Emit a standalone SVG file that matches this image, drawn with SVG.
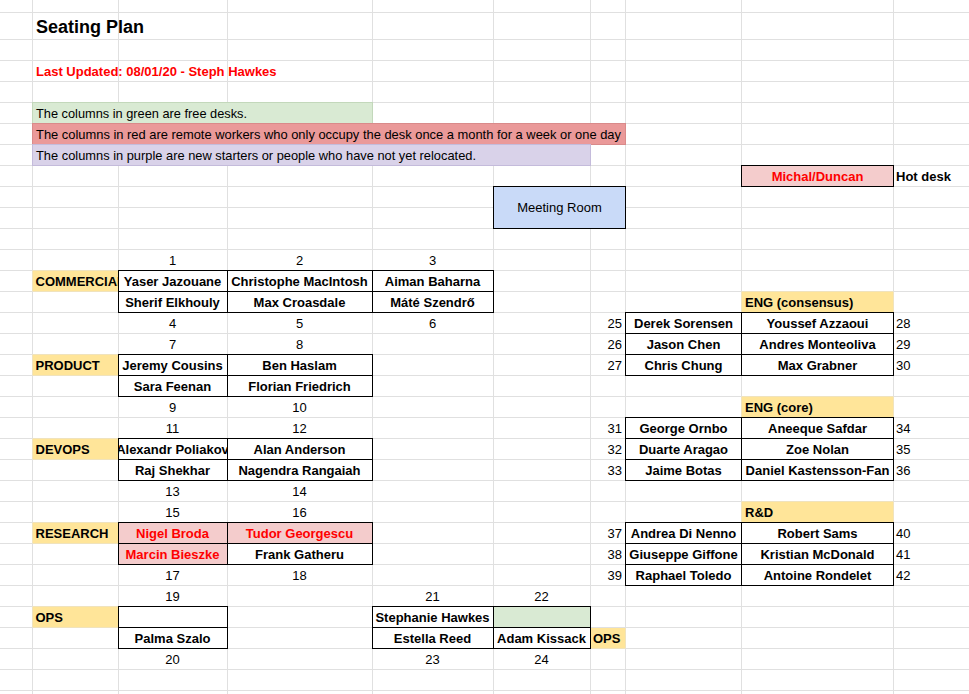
<svg xmlns="http://www.w3.org/2000/svg" width="969" height="694" viewBox="0 0 969 694">
  <style>
    .grid line { stroke: #e0e0e0; stroke-width: 1; }
    .cell { fill: #ffffff; stroke: #000000; stroke-width: 1; }
    .pink { fill: #f4cccc; stroke: #000000; stroke-width: 1; }
    .mint { fill: #d9ead3; stroke: #000000; stroke-width: 1; }
    .tag { fill: #ffe599; }
    text { font-family: "Liberation Sans", Arial, Helvetica, sans-serif; font-size: 13px; fill: #000000; }
    .name { font-weight: bold; text-anchor: middle; }
    .label { font-weight: bold; }
    .num { text-anchor: middle; }
    .numr { text-anchor: end; }
    .red { fill: #ff0000; }
  </style>
  <defs>
    <clipPath id="clipB"><rect x="32.5" y="0" width="85.5" height="694"/></clipPath>
    <clipPath id="clipC"><rect x="119" y="0" width="108" height="694"/></clipPath>
  </defs>

  <rect x="0" y="0" width="969" height="694" fill="#ffffff"/>

  <!-- sheet gridlines -->
  <g class="grid" id="gridlines">
    <line x1="32.5" y1="0" x2="32.5" y2="694"/>
    <line x1="118.5" y1="0" x2="118.5" y2="694"/>
    <line x1="227.5" y1="0" x2="227.5" y2="694"/>
    <line x1="372.5" y1="0" x2="372.5" y2="694"/>
    <line x1="493.5" y1="0" x2="493.5" y2="694"/>
    <line x1="590.5" y1="0" x2="590.5" y2="694"/>
    <line x1="625.5" y1="0" x2="625.5" y2="694"/>
    <line x1="741.5" y1="0" x2="741.5" y2="694"/>
    <line x1="893.5" y1="0" x2="893.5" y2="694"/>
    <line x1="0" y1="12.5" x2="969" y2="12.5"/>
    <line x1="0" y1="39.5" x2="969" y2="39.5"/>
    <line x1="0" y1="60.5" x2="969" y2="60.5"/>
    <line x1="0" y1="81.5" x2="969" y2="81.5"/>
    <line x1="0" y1="102.5" x2="969" y2="102.5"/>
    <line x1="0" y1="123.5" x2="969" y2="123.5"/>
    <line x1="0" y1="144.5" x2="969" y2="144.5"/>
    <line x1="0" y1="165.5" x2="969" y2="165.5"/>
    <line x1="0" y1="186.5" x2="969" y2="186.5"/>
    <line x1="0" y1="207.5" x2="969" y2="207.5"/>
    <line x1="0" y1="228.5" x2="969" y2="228.5"/>
    <line x1="0" y1="249.5" x2="969" y2="249.5"/>
    <line x1="0" y1="270.5" x2="969" y2="270.5"/>
    <line x1="0" y1="291.5" x2="969" y2="291.5"/>
    <line x1="0" y1="312.5" x2="969" y2="312.5"/>
    <line x1="0" y1="333.5" x2="969" y2="333.5"/>
    <line x1="0" y1="354.5" x2="969" y2="354.5"/>
    <line x1="0" y1="375.5" x2="969" y2="375.5"/>
    <line x1="0" y1="396.5" x2="969" y2="396.5"/>
    <line x1="0" y1="417.5" x2="969" y2="417.5"/>
    <line x1="0" y1="438.5" x2="969" y2="438.5"/>
    <line x1="0" y1="459.5" x2="969" y2="459.5"/>
    <line x1="0" y1="480.5" x2="969" y2="480.5"/>
    <line x1="0" y1="501.5" x2="969" y2="501.5"/>
    <line x1="0" y1="522.5" x2="969" y2="522.5"/>
    <line x1="0" y1="543.5" x2="969" y2="543.5"/>
    <line x1="0" y1="564.5" x2="969" y2="564.5"/>
    <line x1="0" y1="585.5" x2="969" y2="585.5"/>
    <line x1="0" y1="606.5" x2="969" y2="606.5"/>
    <line x1="0" y1="627.5" x2="969" y2="627.5"/>
    <line x1="0" y1="648.5" x2="969" y2="648.5"/>
    <line x1="0" y1="669.5" x2="969" y2="669.5"/>
    <line x1="0" y1="690.5" x2="969" y2="690.5"/>
  </g>

  <!-- title and legend -->
  <g id="header">
    <text x="36" y="33" style="font-size:18px;font-weight:bold">Seating Plan</text>
    <text x="36" y="76" class="label red">Last Updated: 08/01/20 - Steph Hawkes</text>
  </g>
  <g id="legend">
    <rect x="32.5" y="102.5" width="340" height="21" fill="#d9ead3" stroke="#c3d8bb"/>
    <rect x="32.5" y="123.5" width="593" height="21" fill="#ea9999" stroke="#d98a8a"/>
    <rect x="32.5" y="144.5" width="558" height="21" fill="#d9d2e9" stroke="#c4bbdb"/>
    <text x="36" y="118" textLength="211" lengthAdjust="spacingAndGlyphs">The columns in green are free desks.</text>
    <text x="36" y="139" textLength="585" lengthAdjust="spacingAndGlyphs">The columns in red are remote workers who only occupy the desk once a month for a week or one day</text>
    <text x="36" y="160" textLength="440" lengthAdjust="spacingAndGlyphs">The columns in purple are new starters or people who have not yet relocated.</text>
  </g>

  <g id="hot-desk">
    <rect class="pink" x="741.5" y="165.5" width="152" height="21"/>
    <text x="817.5" y="181" class="name red">Michal/Duncan</text>
    <text x="896" y="181" class="label">Hot desk</text>
  </g>

  <g id="meeting-room">
    <rect x="493.5" y="186.5" width="132" height="42" fill="#c9daf8" stroke="#000000"/>
    <text x="559.5" y="212" class="num">Meeting Room</text>
  </g>

  <!-- COMMERCIAL: desks 1-6 -->
  <g id="commercial">
    <rect class="tag" x="32.5" y="270.5" width="86" height="21"/>
    <text x="35.5" y="286" class="label" clip-path="url(#clipB)">COMMERCIAL</text>
    <rect class="cell" x="118.5" y="270.5" width="109" height="21"/>
    <rect class="cell" x="227.5" y="270.5" width="145" height="21"/>
    <rect class="cell" x="372.5" y="270.5" width="121" height="21"/>
    <rect class="cell" x="118.5" y="291.5" width="109" height="21"/>
    <rect class="cell" x="227.5" y="291.5" width="145" height="21"/>
    <rect class="cell" x="372.5" y="291.5" width="121" height="21"/>
    <text x="172.5" y="265" class="num">1</text>
    <text x="299.5" y="265" class="num">2</text>
    <text x="432.5" y="265" class="num">3</text>
    <text x="172.5" y="286" class="name">Yaser Jazouane</text>
    <text x="299.5" y="286" class="name">Christophe MacIntosh</text>
    <text x="432.5" y="286" class="name">Aiman Baharna</text>
    <text x="172.5" y="307" class="name">Sherif Elkhouly</text>
    <text x="299.5" y="307" class="name">Max Croasdale</text>
    <text x="432.5" y="307" class="name">Máté Szendrő</text>
    <text x="172.5" y="328" class="num">4</text>
    <text x="299.5" y="328" class="num">5</text>
    <text x="432.5" y="328" class="num">6</text>
  </g>

  <!-- PRODUCT: desks 7-10 -->
  <g id="product">
    <rect class="tag" x="32.5" y="354.5" width="86" height="21"/>
    <text x="35.5" y="370" class="label">PRODUCT</text>
    <rect class="cell" x="118.5" y="354.5" width="109" height="21"/>
    <rect class="cell" x="227.5" y="354.5" width="145" height="21"/>
    <rect class="cell" x="118.5" y="375.5" width="109" height="21"/>
    <rect class="cell" x="227.5" y="375.5" width="145" height="21"/>
    <text x="172.5" y="349" class="num">7</text>
    <text x="299.5" y="349" class="num">8</text>
    <text x="172.5" y="370" class="name">Jeremy Cousins</text>
    <text x="299.5" y="370" class="name">Ben Haslam</text>
    <text x="172.5" y="391" class="name">Sara Feenan</text>
    <text x="299.5" y="391" class="name">Florian Friedrich</text>
    <text x="172.5" y="412" class="num">9</text>
    <text x="299.5" y="412" class="num">10</text>
  </g>

  <!-- DEVOPS: desks 11-14 -->
  <g id="devops">
    <rect class="tag" x="32.5" y="438.5" width="86" height="21"/>
    <text x="35.5" y="454" class="label">DEVOPS</text>
    <rect class="cell" x="118.5" y="438.5" width="109" height="21"/>
    <rect class="cell" x="227.5" y="438.5" width="145" height="21"/>
    <rect class="cell" x="118.5" y="459.5" width="109" height="21"/>
    <rect class="cell" x="227.5" y="459.5" width="145" height="21"/>
    <text x="172.5" y="433" class="num">11</text>
    <text x="299.5" y="433" class="num">12</text>
    <text x="172.5" y="454" class="name" clip-path="url(#clipC)">Alexandr Poliakov</text>
    <text x="299.5" y="454" class="name">Alan Anderson</text>
    <text x="172.5" y="475" class="name">Raj Shekhar</text>
    <text x="299.5" y="475" class="name">Nagendra Rangaiah</text>
    <text x="172.5" y="496" class="num">13</text>
    <text x="299.5" y="496" class="num">14</text>
  </g>

  <!-- RESEARCH: desks 15-18 -->
  <g id="research">
    <rect class="tag" x="32.5" y="522.5" width="86" height="21"/>
    <text x="35.5" y="538" class="label">RESEARCH</text>
    <rect class="pink" x="118.5" y="522.5" width="109" height="21"/>
    <rect class="pink" x="227.5" y="522.5" width="145" height="21"/>
    <rect class="pink" x="118.5" y="543.5" width="109" height="21"/>
    <rect class="cell" x="227.5" y="543.5" width="145" height="21"/>
    <text x="172.5" y="517" class="num">15</text>
    <text x="299.5" y="517" class="num">16</text>
    <text x="172.5" y="538" class="name red">Nigel Broda</text>
    <text x="299.5" y="538" class="name red">Tudor Georgescu</text>
    <text x="172.5" y="559" class="name red">Marcin Bieszke</text>
    <text x="299.5" y="559" class="name">Frank Gatheru</text>
    <text x="172.5" y="580" class="num">17</text>
    <text x="299.5" y="580" class="num">18</text>
  </g>

  <!-- OPS: desks 19-20 -->
  <g id="ops-left">
    <rect class="tag" x="32.5" y="606.5" width="86" height="21"/>
    <text x="35.5" y="622" class="label">OPS</text>
    <rect class="cell" x="118.5" y="606.5" width="109" height="21"/>
    <rect class="cell" x="118.5" y="627.5" width="109" height="21"/>
    <text x="172.5" y="601" class="num">19</text>
    <text x="172.5" y="643" class="name">Palma Szalo</text>
    <text x="172.5" y="664" class="num">20</text>
  </g>

  <!-- OPS: desks 21-24 -->
  <g id="ops-right">
    <rect class="cell" x="372.5" y="606.5" width="121" height="21"/>
    <rect class="mint" x="493.5" y="606.5" width="97" height="21"/>
    <rect class="cell" x="372.5" y="627.5" width="121" height="21"/>
    <rect class="cell" x="493.5" y="627.5" width="97" height="21"/>
    <rect class="tag" x="591" y="628" width="34.5" height="20.5"/>
    <text x="593" y="643" class="label">OPS</text>
    <text x="432.5" y="601" class="num">21</text>
    <text x="541.5" y="601" class="num">22</text>
    <text x="432.5" y="622" class="name">Stephanie Hawkes</text>
    <text x="432.5" y="643" class="name">Estella Reed</text>
    <text x="541.5" y="643" class="name">Adam Kissack</text>
    <text x="432.5" y="664" class="num">23</text>
    <text x="541.5" y="664" class="num">24</text>
  </g>

  <!-- ENG (consensus): desks 25-30 -->
  <g id="eng-consensus">
    <rect class="tag" x="741.5" y="291.5" width="152" height="21"/>
    <text x="745" y="307" class="label">ENG (consensus)</text>
    <rect class="cell" x="625.5" y="312.5" width="116" height="21"/>
    <rect class="cell" x="741.5" y="312.5" width="152" height="21"/>
    <rect class="cell" x="625.5" y="333.5" width="116" height="21"/>
    <rect class="cell" x="741.5" y="333.5" width="152" height="21"/>
    <rect class="cell" x="625.5" y="354.5" width="116" height="21"/>
    <rect class="cell" x="741.5" y="354.5" width="152" height="21"/>
    <text x="622" y="328" class="numr">25</text>
    <text x="622" y="349" class="numr">26</text>
    <text x="622" y="370" class="numr">27</text>
    <text x="896" y="328">28</text>
    <text x="896" y="349">29</text>
    <text x="896" y="370">30</text>
    <text x="683.5" y="328" class="name">Derek Sorensen</text>
    <text x="683.5" y="349" class="name">Jason Chen</text>
    <text x="683.5" y="370" class="name">Chris Chung</text>
    <text x="817.5" y="328" class="name">Youssef Azzaoui</text>
    <text x="817.5" y="349" class="name">Andres Monteoliva</text>
    <text x="817.5" y="370" class="name">Max Grabner</text>
  </g>

  <!-- ENG (core): desks 31-36 -->
  <g id="eng-core">
    <rect class="tag" x="741.5" y="396.5" width="152" height="21"/>
    <text x="745" y="412" class="label">ENG (core)</text>
    <rect class="cell" x="625.5" y="417.5" width="116" height="21"/>
    <rect class="cell" x="741.5" y="417.5" width="152" height="21"/>
    <rect class="cell" x="625.5" y="438.5" width="116" height="21"/>
    <rect class="cell" x="741.5" y="438.5" width="152" height="21"/>
    <rect class="cell" x="625.5" y="459.5" width="116" height="21"/>
    <rect class="cell" x="741.5" y="459.5" width="152" height="21"/>
    <text x="622" y="433" class="numr">31</text>
    <text x="622" y="454" class="numr">32</text>
    <text x="622" y="475" class="numr">33</text>
    <text x="896" y="433">34</text>
    <text x="896" y="454">35</text>
    <text x="896" y="475">36</text>
    <text x="683.5" y="433" class="name">George Ornbo</text>
    <text x="683.5" y="454" class="name">Duarte Aragao</text>
    <text x="683.5" y="475" class="name">Jaime Botas</text>
    <text x="817.5" y="433" class="name">Aneeque Safdar</text>
    <text x="817.5" y="454" class="name">Zoe Nolan</text>
    <text x="817.5" y="475" class="name">Daniel Kastensson-Fan</text>
  </g>

  <!-- R&D: desks 37-42 -->
  <g id="r-and-d">
    <rect class="tag" x="741.5" y="501.5" width="152" height="21"/>
    <text x="745" y="517" class="label">R&amp;D</text>
    <rect class="cell" x="625.5" y="522.5" width="116" height="21"/>
    <rect class="cell" x="741.5" y="522.5" width="152" height="21"/>
    <rect class="cell" x="625.5" y="543.5" width="116" height="21"/>
    <rect class="cell" x="741.5" y="543.5" width="152" height="21"/>
    <rect class="cell" x="625.5" y="564.5" width="116" height="21"/>
    <rect class="cell" x="741.5" y="564.5" width="152" height="21"/>
    <text x="622" y="538" class="numr">37</text>
    <text x="622" y="559" class="numr">38</text>
    <text x="622" y="580" class="numr">39</text>
    <text x="896" y="538">40</text>
    <text x="896" y="559">41</text>
    <text x="896" y="580">42</text>
    <text x="683.5" y="538" class="name">Andrea Di Nenno</text>
    <text x="683.5" y="559" class="name">Giuseppe Giffone</text>
    <text x="683.5" y="580" class="name">Raphael Toledo</text>
    <text x="817.5" y="538" class="name">Robert Sams</text>
    <text x="817.5" y="559" class="name">Kristian McDonald</text>
    <text x="817.5" y="580" class="name">Antoine Rondelet</text>
  </g>
</svg>
